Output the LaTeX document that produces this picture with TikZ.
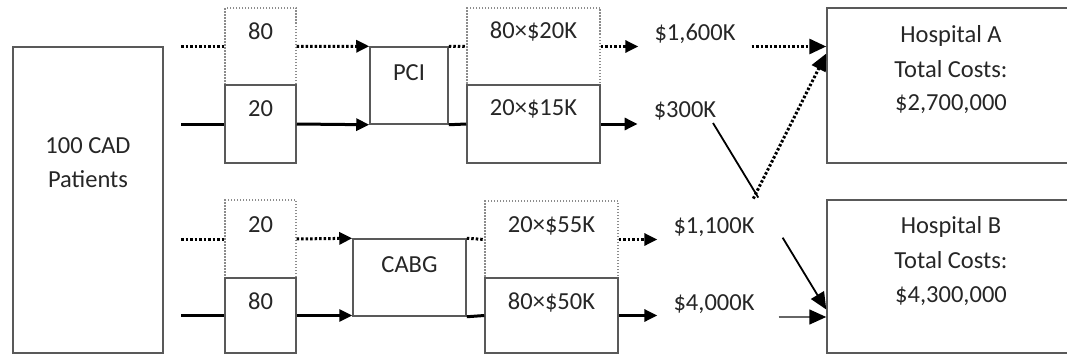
\documentclass[tikz,border=0pt]{standalone}
\usepackage{fontspec}
\setmainfont{Carlito}
\usetikzlibrary{arrows.meta,calc}
\begin{document}
\begin{tikzpicture}[x=1pt,y=-1pt,
  box/.style={draw=black!65, line width=1.5pt, inner sep=0pt},
  dbox/.style={draw=black!45, line width=1.2pt, dash pattern=on 1.5pt off 1.5pt, inner sep=0pt},
  txt/.style={anchor=base, inner sep=0pt, text=black!85, font=\fontsize{24.5}{30}\selectfont},
  lbl/.style={txt, inner xsep=16pt, inner ysep=0pt},
  solidc/.style={line width=3pt},
  dotc/.style={line width=3pt, dash pattern=on 2.5pt off 2pt},
  tip/.style={-{Triangle[length=13pt,width=12pt,color=black]}},
  bigtip/.style={-{Triangle[length=17pt,width=15pt,color=black]}},
  diag/.style={line width=1.8pt},
  flat/.style={line width=1.6pt, draw=black!60}
]
\useasboundingbox (0,0) rectangle (1067,356);

% ---- boxes ----
\node[box, minimum width=150, minimum height=306] (pat) at (88,200) {};
\node[dbox, minimum width=71, minimum height=77] (a80) at (260.5,46.5) {};
\node[box, minimum width=71, minimum height=78] (a20) at (260.5,124) {};
\node[box, minimum width=78, minimum height=77] (pci) at (409,85.5) {};
\node[dbox, minimum width=133, minimum height=77] (ac1) at (533.5,46.5) {};
\node[box, minimum width=133, minimum height=78] (ac2) at (533.5,124) {};
\node[box, minimum width=248, minimum height=155] (hospA) at (951,85.5) {};

\node[dbox, minimum width=71, minimum height=78] (b20) at (260.5,239) {};
\node[box, minimum width=71, minimum height=75] (b80) at (260.5,315.5) {};
\node[box, minimum width=113, minimum height=77] (cabg) at (409.5,277.5) {};
\node[dbox, minimum width=133, minimum height=77] (bc1) at (551.5,239.5) {};
\node[box, minimum width=133, minimum height=75] (bc2) at (551.5,315.5) {};
\node[box, minimum width=248, minimum height=153] (hospB) at (951,276.5) {};

% ---- texts ----
\node[txt] (tpat1) at (88,153) {100 CAD};
\node[txt] (tpat2) at (88,187) {Patients};
\node[txt] (ta80) at ($(a80.north)+(0,32)$) {80};
\node[txt] (ta20) at ($(a20.north)+(0,32)$) {20};
\node[txt] (tpci) at ($(pci.north)+(0,34)$) {PCI};
\node[txt] (tac1) at ($(ac1.north)+(0,31)$) {80×\$20K};
\node[txt] (tac2) at ($(ac2.north)+(0,31)$) {20×\$15K};
\node[txt] (tb20) at ($(b20.north)+(0,33)$) {20};
\node[txt] (tb80) at ($(b80.north)+(0,32)$) {80};
\node[txt] (tcabg) at ($(cabg.north)+(0,34)$) {CABG};
\node[txt] (tbc1) at ($(bc1.north)+(0,32)$) {20×\$55K};
\node[txt] (tbc2) at ($(bc2.north)+(0,32)$) {80×\$50K};
\node[txt] (hA1) at (951,42) {Hospital A};
\node[txt] (hA2) at (951,77) {Total Costs:};
\node[txt] (hA3) at (951,110) {\$2,700,000};
\node[txt] (hB1) at (951,233) {Hospital B};
\node[txt] (hB2) at (951,268) {Total Costs:};
\node[txt] (hB3) at (951,302) {\$4,300,000};

\node[lbl] (l1600) at (695,40) {\$1,600K};
\node[lbl] (l300) at (685,117) {\$300K};
\node[lbl] (l1100) at (714,233) {\$1,100K};
\node[lbl] (l4000) at (714,310) {\$4,000K};

% ---- free ends ----
\coordinate (sA1) at (181,46.5);
\coordinate (sA2) at (181,124);
\coordinate (sB1) at (181,239);
\coordinate (sB2) at (181,315.5);

% ---- connectors, top ----
\draw[dotc] (sA1) -- (a80.west);
\draw[solidc] (sA2) -- (a20.west);
\draw[dotc, tip] (a80.east) -- (pci.north west);
\draw[solidc, tip] (a20.east) -- (pci.south west);
\draw[dotc] (pci.north east) -- (ac1.west);
\draw[solidc] (pci.south east) -- (ac2.west);
\draw[dotc, tip] (ac1.east) -- (ac1.east -| l1600.west);
\draw[solidc, tip] (ac2.east) -- (ac2.east -| l300.west);
\draw[dotc, bigtip] (l1600.east |- ac1) -- (hospA.west |- ac1);

% ---- connectors, bottom ----
\draw[dotc] (sB1) -- (b20.west);
\draw[solidc] (sB2) -- (b80.west);
\draw[dotc, tip] (b20.east) -- (cabg.north west);
\draw[solidc, tip] (b80.east) -- (b80.east -| cabg.west);
\draw[dotc] (cabg.north east) -- (bc1.west);
\draw[solidc] (cabg.south east) -- (bc2.west);
\draw[dotc, tip] (bc1.east) -- (bc1.east -| l1100.west);
\draw[solidc, tip] (bc2.east) -- (bc2.east -| l4000.west);
\draw[flat, bigtip] ($(l4000.east |- bc2)+(8,1.5)$) -- ($(hospB.west |- bc2)+(0,1.5)$);

% ---- crossing lines ----
\coordinate (s300) at ($(l300.base)+(28,6)$);
\coordinate (eB) at ($(hospB.west)+(0,33)$);
\coordinate (p1) at ($(s300)!0.40!(eB)$);
\coordinate (p2) at ($(s300)!0.615!(eB)$);
\draw[diag] (s300) -- (p1);
\draw[diag, bigtip] (p2) -- (eB);
\coordinate (q1100) at ($(p1)+(-5,1)$);
\draw[dotc, bigtip] (q1100) -- ($(hospA.west)+(0,-32)$);
\end{tikzpicture}
\end{document}
